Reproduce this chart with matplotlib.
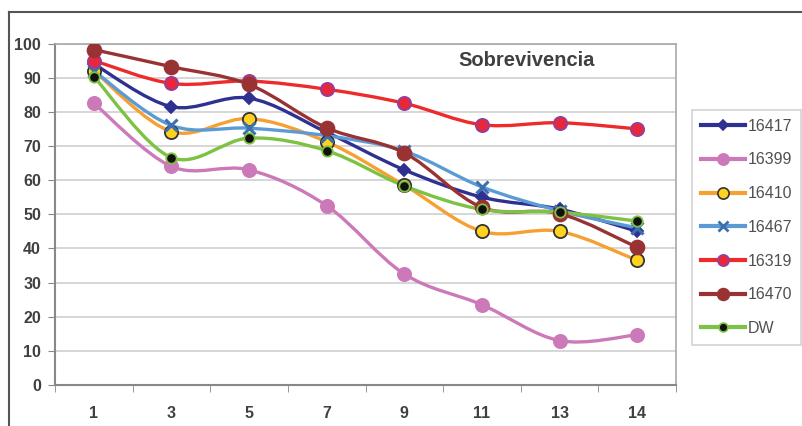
import numpy as np
import matplotlib
matplotlib.use('Agg')
import matplotlib.pyplot as plt
from matplotlib.path import Path
from matplotlib.patches import PathPatch
from matplotlib.lines import Line2D

# days of evaluation
days = ['1', '3', '5', '7', '9', '11', '13', '14']

v16417 = [94, 81.5, 84, 74, 63, 55, 51.5, 45]
v16399 = [82.5, 64, 63, 52.5, 32.5, 23.5, 13, 14.7]
v16410 = [92, 74.2, 78, 71.2, 58.5, 45, 45, 36.5]
v16467 = [92, 76, 75.2, 73, 68.5, 58, 51, 46]
v16319 = [95, 88.3, 89, 86.6, 82.5, 76.2, 76.8, 75]
v16470 = [98.2, 93.2, 88, 75.3, 68, 52, 50.2, 40.3]
vDW = [90.3, 66.6, 72.3, 68.6, 58.3, 51.4, 50.6, 48]

labels = ['16417', '16399', '16410', '16467', '16319', '16470', 'DW']
series = [v16417, v16399, v16410, v16467, v16319, v16470, vDW]

# line colour, marker, marker face, marker edge, marker size
styles = [
    ('#2E3192', 'D', '#2E3192', '#2E3192', 6.5),
    ('#CC79B9', 'o', '#CC79B9', '#CC79B9', 9.5),
    ('#F7A032', 'o', '#FFD21F', '#333333', 9.5),
    ('#5B9BD5', 'x', '#3A6FB0', '#3A6FB0', 8),
    ('#EE2A2A', 'o', '#E8283A', '#9040A0', 9.5),
    ('#993333', 'o', '#993333', '#993333', 10),
    ('#7DC242', 'o', '#111111', '#7DC242', 7.5),
]

plt.rcParams['font.family'] = ['Liberation Sans', 'DejaVu Sans']


def smooth_path(x, y):
    # cardinal spline through the points, as bezier segments
    pts = np.column_stack([x, y]).astype(float)
    verts = [pts[0]]
    codes = [Path.MOVETO]
    n = len(pts)
    for i in range(n - 1):
        p0 = pts[i - 1] if i > 0 else pts[i]
        p1 = pts[i]
        p2 = pts[i + 1]
        p3 = pts[i + 2] if i + 2 < n else pts[i + 1]
        c1 = p1 + (p2 - p0) / 6.0
        c2 = p2 - (p3 - p1) / 6.0
        verts += [c1, c2, p2]
        codes += [Path.CURVE4] * 3
    return Path(verts, codes)


fig = plt.figure(figsize=(8.02, 4.26), dpi=100)
ax = fig.add_axes([55 / 802, 1 - 385 / 426, 621 / 802, 341.5 / 426])

x = np.arange(len(days))
for vals, lab, (lc, mk, mf, me, ms) in zip(series, labels, styles):
    ax.add_patch(PathPatch(smooth_path(x, vals), facecolor='none',
                           edgecolor=lc, lw=2.4, zorder=3))
    mew = 2.2 if mk == 'x' else 1.3
    ax.plot(x, vals, ls='none', marker=mk, ms=ms, mfc=mf, mec=me,
            mew=mew, zorder=4)

ax.set_xlim(-0.5, len(days) - 0.5)
ax.set_ylim(0, 100)
ax.set_yticks(range(0, 101, 10))
ax.set_xticks(x)
ax.set_xticklabels(days)
ax.set_xticks(np.arange(-0.5, len(days)), minor=True)
ax.tick_params(axis='x', which='major', length=0, pad=15)
ax.tick_params(axis='x', which='minor', length=5, color='#888888')
ax.tick_params(axis='y', length=5, color='#888888', pad=5)
for t in ax.get_xticklabels() + ax.get_yticklabels():
    t.set_fontweight('bold')
    t.set_fontsize(11.5)
    t.set_color('#404040')

ax.grid(axis='y', color='#D0D0D0', lw=1.2)
ax.set_axisbelow(True)
for s in ['top', 'right']:
    ax.spines[s].set_color('#A8A8A8')
    ax.spines[s].set_linewidth(1.2)
for s in ['left', 'bottom']:
    ax.spines[s].set_color('#888888')
    ax.spines[s].set_linewidth(1.5)

ax.text(5.58, 95, 'Sobrevivencia', ha='center', va='center',
        fontsize=14.5, fontweight='bold', color='#404040')

handles = []
for lab, (lc, mk, mf, me, ms) in zip(labels, styles):
    handles.append(Line2D([], [], color=lc, lw=3, marker=mk,
                          ms=ms * 0.85, mfc=mf, mec=me,
                          mew=2 if mk == 'x' else 1.2))
leg = fig.legend(handles, labels, loc='upper left',
                 bbox_to_anchor=(692 / 802, 1 - 110 / 426),
                 borderaxespad=0, frameon=True, fancybox=False,
                 fontsize=11.5, handlelength=2.75, handletextpad=0.2,
                 labelspacing=1.17, borderpad=0.55, labelcolor='#505050')
leg.get_frame().set_edgecolor('#C8C8C8')
leg.get_frame().set_linewidth(1.2)

# outer chart frame
fig.add_artist(Line2D([9 / 802, 1], [1 - 12 / 426, 1 - 12 / 426],
                      color='#555555', lw=1.5))
fig.add_artist(Line2D([9 / 802, 9 / 802], [0, 1 - 12 / 426],
                      color='#555555', lw=1.5))

fig.savefig('out.png', dpi=100)
